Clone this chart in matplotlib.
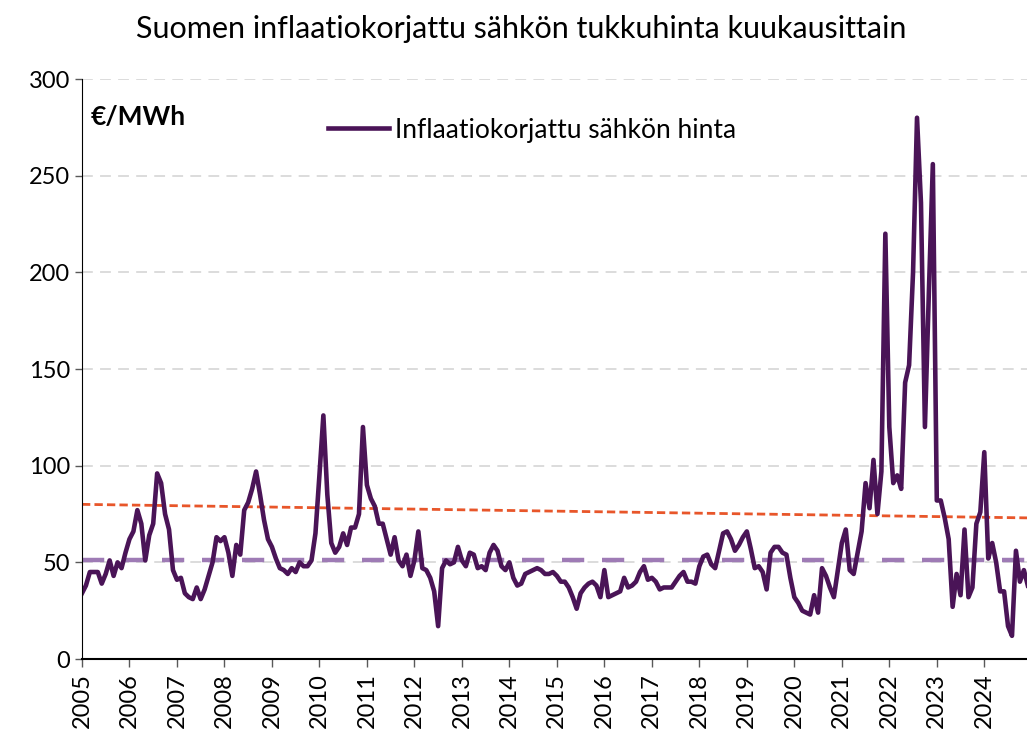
import numpy as np
import matplotlib
matplotlib.use("Agg")
import matplotlib.pyplot as plt

plt.rcParams['font.family'] = ['Lato', 'DejaVu Sans']

# Monthly inflation-adjusted wholesale price, Jan 2005 - Dec 2024 (EUR/MWh)
price_2005_2009 = [
    34, 38, 45, 45, 45, 39, 44, 51, 43, 50, 47, 55,        # 2005
    62, 66, 77, 70, 51, 64, 70, 96, 91, 75, 67, 46,        # 2006
    41, 42, 34, 32, 31, 37, 31, 36, 43, 50, 63, 61,        # 2007
    63, 55, 43, 59, 54, 77, 81, 88, 97, 85, 72, 62,        # 2008
    58, 52, 47, 46, 44, 47, 45, 50, 48, 48, 51, 65,        # 2009
]
price_2010_2014 = [
    95, 126, 85, 60, 55, 58, 65, 59, 68, 68, 75, 120,      # 2010
    90, 83, 79, 70, 70, 62, 54, 63, 51, 48, 54, 43,        # 2011
    51, 66, 47, 46, 42, 35, 17, 47, 51, 49, 50, 58,        # 2012
    51, 48, 55, 54, 47, 48, 46, 55, 59, 56, 48, 46,        # 2013
    50, 42, 38, 39, 44, 45, 46, 47, 46, 44, 44, 45,        # 2014
]
price_2015_2019 = [
    43, 40, 40, 37, 32, 26, 34, 37, 39, 40, 38, 32,        # 2015
    46, 32, 33, 34, 35, 42, 37, 38, 40, 45, 48, 41,        # 2016
    42, 40, 36, 37, 37, 37, 40, 43, 45, 40, 40, 39,        # 2017
    48, 53, 54, 49, 47, 56, 65, 66, 62, 56, 59, 63,        # 2018
    66, 57, 47, 48, 45, 36, 55, 58, 58, 55, 54, 42,        # 2019
]
price_2020_2024 = [
    32, 29, 25, 24, 23, 33, 24, 47, 43, 37, 32, 46,        # 2020
    60, 67, 46, 44, 55, 66, 91, 78, 103, 75, 97, 220,      # 2021
    120, 91, 95, 88, 143, 152, 200, 280, 236, 120, 190, 256,  # 2022
    82, 82, 73, 62, 27, 44, 33, 67, 32, 37, 70, 76,        # 2023
    107, 52, 60, 50, 35, 35, 17, 12, 56, 40, 46, 38,       # 2024
]
price = price_2005_2009 + price_2010_2014 + price_2015_2019 + price_2020_2024

years = list(range(2005, 2025))
trend_ends = [80, 73]      # orange dashed trend, start and end
average_level = 51         # purple dashed level

months = np.arange(len(price))

fig = plt.figure(figsize=(10.27, 7.36), dpi=100)
ax = fig.add_axes([0.0798, 0.1046, 0.921, 0.788])

ax.set_ylim(0, 300)
ax.set_xlim(0, len(price) - 1)
ax.set_yticks(range(0, 301, 50))
ax.grid(axis='y', color='#d9d9d9', linestyle=(0, (6, 4)), linewidth=1.3)
ax.set_axisbelow(True)

ax.plot([0, len(price) - 1], [average_level, average_level],
        color='#9e7bb5', linewidth=3.2, linestyle=(0, (5, 4)))
ax.plot([0, len(price) - 1], trend_ends,
        color='#e8562a', linewidth=2.0, linestyle=(0, (3, 1.5)))
line, = ax.plot(months, price, color='#4a1457', linewidth=3.3,
                label='Inflaatiokorjattu sähkön hinta')

ax.set_xticks(np.arange(0, len(price), 12))
ax.set_xticklabels([str(y) for y in years], rotation=90, fontsize=17)
ax.tick_params(axis='y', labelsize=17, length=5, width=1, color='#595959')
ax.tick_params(axis='x', length=6, width=1, color='#595959', pad=4)

for s in ['top', 'right']:
    ax.spines[s].set_visible(False)
ax.spines['left'].set_color('black')
ax.spines['bottom'].set_color('black')
ax.spines['bottom'].set_linewidth(1.5)

ax.text(0.009, 0.935, '€/MWh', transform=ax.transAxes, fontsize=19,
        fontweight='bold', va='center', ha='left')

ax.legend(handles=[line], loc='center', bbox_to_anchor=(0.476, 0.912),
          frameon=False, fontsize=19, handlelength=2.3, handletextpad=0.25)

fig.suptitle('Suomen inflaatiokorjattu sähkön tukkuhinta kuukausittain',
             x=0.507, y=0.98, fontsize=22)

fig.savefig('out.png', dpi=100)
